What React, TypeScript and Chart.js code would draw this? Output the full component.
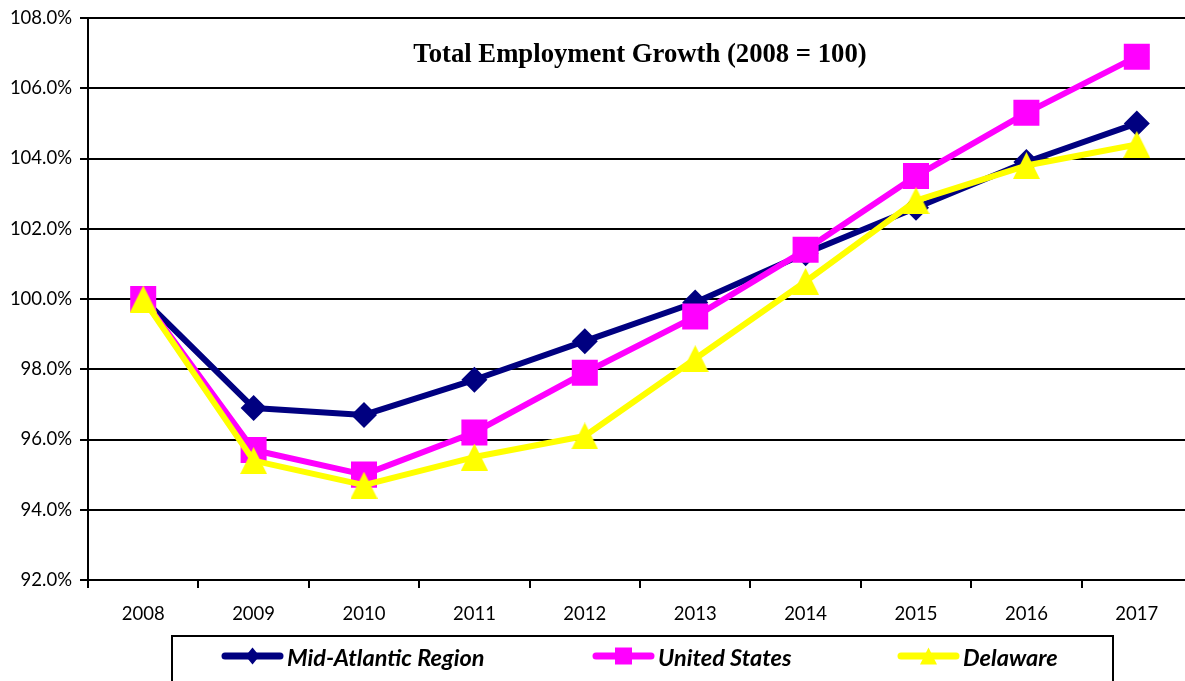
import { useEffect, useRef } from "react";
import { Chart, registerables } from "chart.js";

Chart.register(...registerables);

const categories = ["2008", "2009", "2010", "2011", "2012", "2013", "2014", "2015", "2016", "2017"];
const midAtlantic = [100.0, 96.9, 96.7, 97.7, 98.8, 99.9, 101.3, 102.6, 103.9, 105.0];
const unitedStates = [100.0, 95.7, 95.0, 96.2, 97.9, 99.5, 101.4, 103.5, 105.3, 106.9];
const delaware = [100.0, 95.4, 94.7, 95.5, 96.1, 98.3, 100.5, 102.8, 103.8, 104.4];
const seriesNames = ["Mid-Atlantic Region", "United States", "Delaware"];
const seriesColors = ["#000080", "#FF00FF", "#FFFF00"];
const yMin = 92;
const yMax = 108;
const yStep = 2;
const titleText = "Total Employment Growth (2008 = 100)";

const AXIS_FONT = "Lato, 'DejaVu Sans', sans-serif";
const LEGEND_FONT = "italic bold 23.5px Lato, 'DejaVu Sans', sans-serif";
const TITLE_FONT = "bold 26.7px 'Liberation Serif', 'Times New Roman', serif";

function makeTriangle(size: number, color: string) {
  const c = document.createElement("canvas");
  c.width = size;
  c.height = size;
  const ctx = c.getContext("2d")!;
  ctx.fillStyle = color;
  ctx.beginPath();
  ctx.moveTo(size / 2, 0);
  ctx.lineTo(size, size);
  ctx.lineTo(0, size);
  ctx.closePath();
  ctx.fill();
  return c;
}

function drawMarker(ctx: CanvasRenderingContext2D, kind: number, x: number, y: number, color: string) {
  ctx.fillStyle = color;
  ctx.beginPath();
  if (kind === 0) {
    ctx.moveTo(x, y - 8.5);
    ctx.lineTo(x + 7, y);
    ctx.lineTo(x, y + 8.5);
    ctx.lineTo(x - 7, y);
  } else if (kind === 1) {
    ctx.rect(x - 8.5, y - 8.5, 17, 17);
  } else {
    ctx.moveTo(x, y - 8.5);
    ctx.lineTo(x + 8.5, y + 8.5);
    ctx.lineTo(x - 8.5, y + 8.5);
  }
  ctx.closePath();
  ctx.fill();
}

const overlayPlugin = {
  id: "overlay",
  afterDraw(chart: any) {
    const ctx: CanvasRenderingContext2D = chart.ctx;
    const area = chart.chartArea;
    ctx.save();
    // title
    ctx.font = TITLE_FONT;
    ctx.fillStyle = "#000";
    ctx.textAlign = "center";
    ctx.textBaseline = "alphabetic";
    ctx.fillText(titleText, (area.left + area.right) / 2, area.top + 44);

    // legend box
    const boxLeft = 172;
    const boxTop = 636;
    const boxRight = 1113;
    ctx.strokeStyle = "#000";
    ctx.lineWidth = 2;
    ctx.strokeRect(boxLeft, boxTop, boxRight - boxLeft, 80);

    const itemX = [222, 593, 898];
    const cy = 656;
    const sampleLen = 61;
    ctx.font = LEGEND_FONT;
    ctx.textAlign = "left";
    ctx.textBaseline = "middle";
    seriesNames.forEach((name, i) => {
      const x0 = itemX[i];
      ctx.strokeStyle = seriesColors[i];
      ctx.lineWidth = 7;
      ctx.lineCap = "round";
      ctx.beginPath();
      ctx.moveTo(x0 + 3, cy);
      ctx.lineTo(x0 + sampleLen - 3, cy);
      ctx.stroke();
      drawMarker(ctx, i, x0 + sampleLen / 2, cy, seriesColors[i]);
      ctx.fillStyle = "#000";
      ctx.fillText(name, x0 + sampleLen + 4, cy + 2);
    });
    ctx.restore();
  },
};

export default function App() {
  const canvasRef = useRef<HTMLCanvasElement | null>(null);

  useEffect(() => {
    let chart: Chart | null = null;
    let cancelled = false;
    const create = () => {
      if (cancelled || !canvasRef.current) return;
      const tri = makeTriangle(27, seriesColors[2]);
      const common = {
        borderWidth: 6,
        borderJoinStyle: "round" as const,
        borderCapStyle: "round" as const,
        tension: 0,
        pointBorderWidth: 0,
        fill: false,
      };
      chart = new Chart(canvasRef.current, {
        type: "line",
        data: {
          labels: categories,
          datasets: [
            {
              ...common,
              label: seriesNames[0],
              data: midAtlantic,
              borderColor: seriesColors[0],
              backgroundColor: seriesColors[0],
              pointBackgroundColor: seriesColors[0],
              pointStyle: "rectRot",
              pointRadius: 13,
              order: 3,
            },
            {
              ...common,
              label: seriesNames[1],
              data: unitedStates,
              borderColor: seriesColors[1],
              backgroundColor: seriesColors[1],
              pointBackgroundColor: seriesColors[1],
              pointStyle: "rect",
              pointRadius: 18.4,
              order: 2,
            },
            {
              ...common,
              label: seriesNames[2],
              data: delaware,
              borderColor: seriesColors[2],
              backgroundColor: seriesColors[2],
              pointBackgroundColor: seriesColors[2],
              pointStyle: tri as any,
              pointRadius: 14,
              order: 1,
            },
          ],
        },
        options: {
          responsive: false,
          animation: false,
          devicePixelRatio: 1,
          layout: { autoPadding: false, padding: { left: 0, top: 18, right: 8, bottom: 0 } },
          plugins: {
            legend: { display: false },
            title: { display: false },
            tooltip: { enabled: false },
          },
          scales: {
            x: {
              type: "category",
              offset: true,
              grid: {
                offset: true,
                drawOnChartArea: false,
                drawTicks: true,
                tickLength: 8,
                color: "#000",
                lineWidth: 2,
              },
              border: { display: true, color: "#000", width: 2 },
              ticks: {
                color: "#000",
                font: { family: AXIS_FONT, size: 18.5 },
                padding: 15,
                maxRotation: 0,
              },
              afterFit: (scale: any) => {
                scale.height = 101;
                scale.paddingLeft = 0;
                scale.paddingRight = 0;
              },
            },
            y: {
              min: yMin,
              max: yMax,
              grid: {
                color: "#000",
                lineWidth: 2,
                drawTicks: true,
                tickLength: 8,
              },
              border: { display: true, color: "#000", width: 2 },
              ticks: {
                stepSize: yStep,
                color: "#000",
                font: { family: AXIS_FONT, size: 18.5 },
                padding: 8,
                callback: (v: any) => Number(v).toFixed(1) + "%",
              },
              afterFit: (scale: any) => {
                scale.width = 88;
                scale.paddingTop = 0;
                scale.paddingBottom = 0;
              },
            },
          },
        },
        plugins: [overlayPlugin],
      });
    };
    const fontsApi = (document as any).fonts;
    if (fontsApi && fontsApi.load) {
      Promise.all([
        fontsApi.load("18px Lato"),
        fontsApi.load("italic bold 23px Lato"),
        fontsApi.load("bold 26.7px 'Liberation Serif'"),
      ])
        .catch(() => null)
        .then(create);
    } else {
      create();
    }
    return () => {
      cancelled = true;
      if (chart) chart.destroy();
    };
  }, []);

  return (
    <div
      style={{
        position: "fixed",
        left: 0,
        top: 0,
        width: 1185,
        height: 681,
        overflow: "hidden",
        background: "#fff",
      }}
    >
      <canvas ref={canvasRef} width={1200} height={681} style={{ display: "block" }} />
    </div>
  );
}
